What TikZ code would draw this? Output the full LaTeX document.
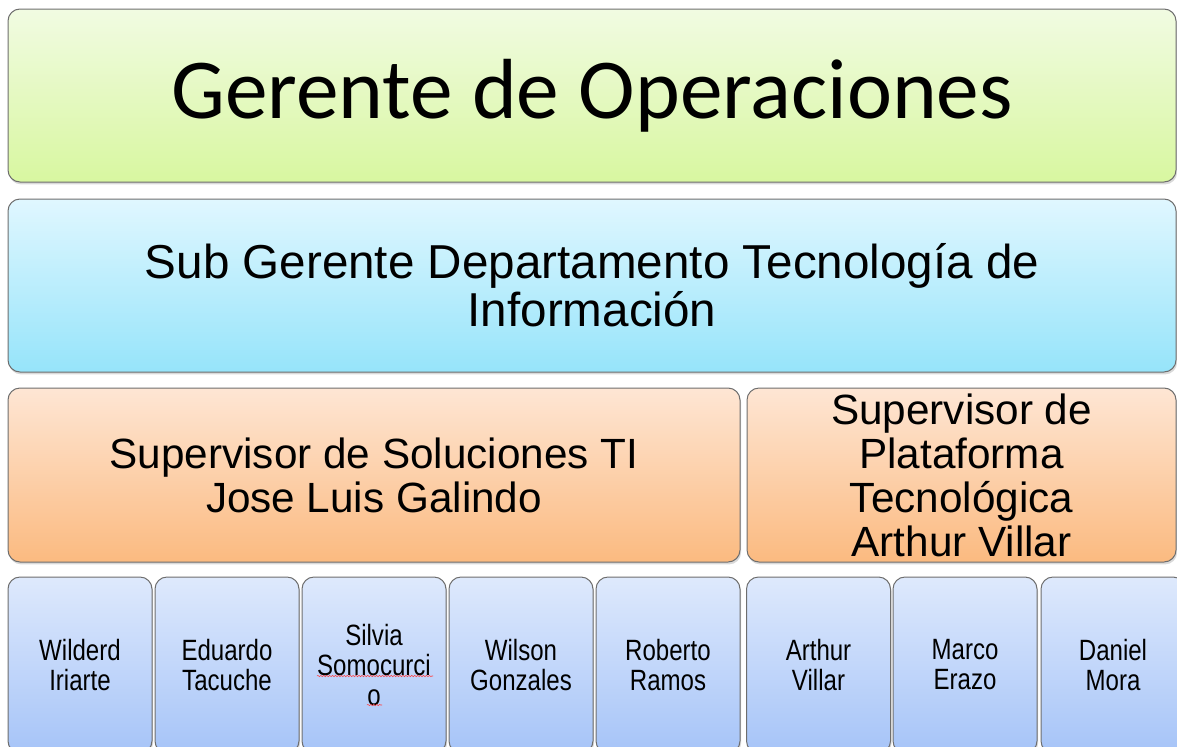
\documentclass[tikz,border=0pt]{standalone}
\usepackage{fontspec}
\setmainfont{Liberation Sans}
\newfontfamily\calibfont{Carlito}
\newfontfamily\narrowfont[FakeStretch=0.82]{Liberation Sans}
\usetikzlibrary{shadows,decorations.pathmorphing}

\definecolor{greentop}{RGB}{241,251,226}
\definecolor{greenbot}{RGB}{216,247,160}
\definecolor{cyantop}{RGB}{224,247,255}
\definecolor{cyanbot}{RGB}{150,228,250}
\definecolor{orangetop}{RGB}{254,230,212}
\definecolor{orangebot}{RGB}{251,186,128}
\definecolor{bluetop}{RGB}{222,233,252}
\definecolor{bluebot}{RGB}{166,196,248}
\definecolor{boxline}{RGB}{110,110,110}

% sizes are given in pixels of the reference (1px = 0.75pt)
\tikzset{
  card/.style={draw=boxline, line width=0.75pt, rounded corners=9pt,
    inner sep=0pt, align=center, text=black,
    drop shadow={opacity=0.3, shadow xshift=0.8pt, shadow yshift=-1.8pt}},
  chief/.style={card, top color=greentop, bottom color=greenbot,
    minimum width=876pt, minimum height=129.75pt,
    font=\calibfont\fontsize{64}{70}\selectfont},
  subchief/.style={card, top color=cyantop, bottom color=cyanbot,
    minimum width=876pt, minimum height=129.75pt,
    font=\fontsize{35.7}{36}\selectfont},
  supervisor/.style={card, top color=orangetop, bottom color=orangebot,
    minimum height=130.5pt, font=\fontsize{31.7}{33}\selectfont},
  staff/.style={card, top color=bluetop, bottom color=bluebot,
    minimum width=108pt, minimum height=132pt,
    font=\narrowfont\fontsize{22}{22.5}\selectfont},
  spell/.style={red!75, line width=0.4pt,
    decorate, decoration={snake, amplitude=0.5pt, segment length=2.2pt}}
}

\begin{document}
\begin{tikzpicture}[x=0.75pt,y=-0.75pt]

% Page frame
\useasboundingbox (0,0) rectangle (1177,746);
\clip (0,0) rectangle (1177,746);

% Top levels
\node[chief] (gerente) at (592,95.5) {Gerente de Operaciones};
\node[subchief] (subgerente) at (592,285.5)
  {Sub Gerente Departamento Tecnología de\\Información};

% Supervisors
\node[supervisor, minimum width=549pt] (solti) at (374,475)
  {Supervisor de Soluciones TI\\Jose Luis Galindo};
\node[supervisor, minimum width=321.75pt] (plataf) at (961.5,475)
  {Supervisor de\\Plataforma\\Tecnológica\\Arthur Villar};

% Staff
\node[staff] (w1) at (80,665) {Wilderd\\Iriarte};
\node[staff] (w2) at (227,665) {Eduardo\\Tacuche};
\node[staff] (w3) at (374,665) {Silvia\\Somocurci\\o};
\node[staff] (w4) at (521,665) {Wilson\\Gonzales};
\node[staff] (w5) at (668,665) {Roberto\\Ramos};
\node[staff] (w6) at (818.5,665) {Arthur\\Villar};
\node[staff] (w7) at (965,665) {Marco\\Erazo};
\node[staff] (w8) at (1113,665) {Daniel\\Mora};

% Spell check marks
\draw[spell] (317,676) -- (433,676);
\draw[spell] (367,705) -- (382,705);

\end{tikzpicture}
\end{document}
